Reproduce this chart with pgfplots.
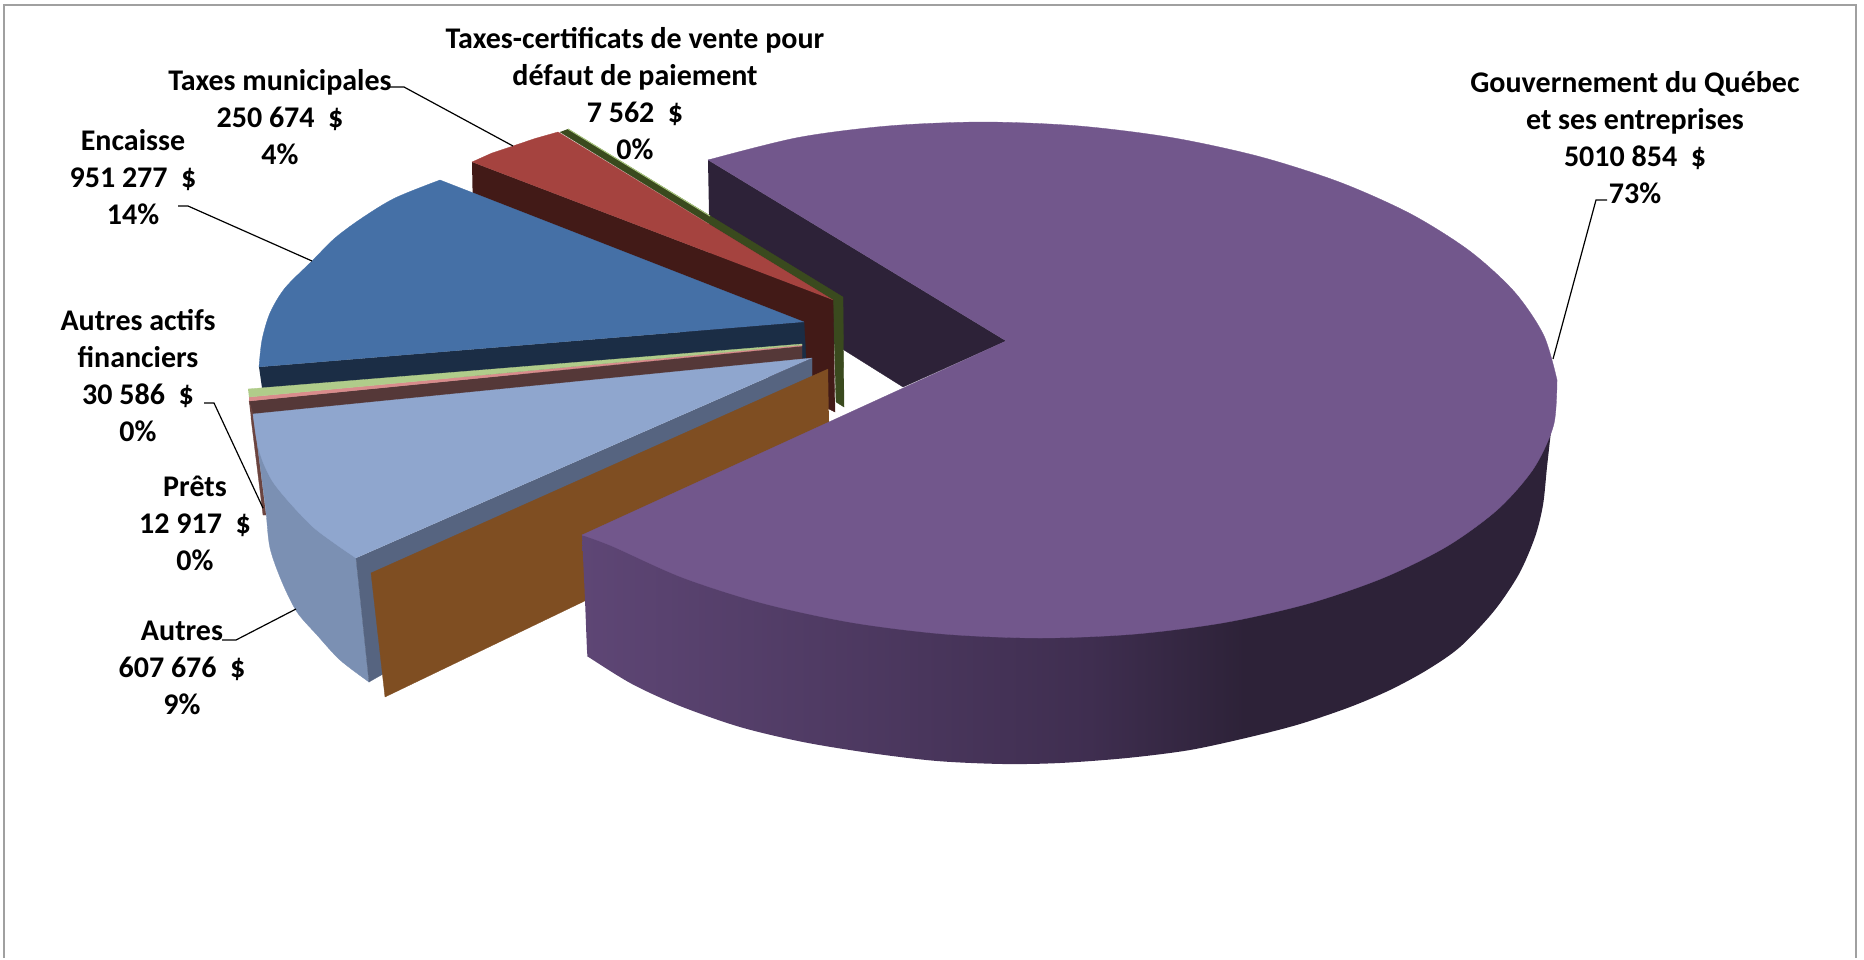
\documentclass[border=0pt]{standalone}
\usepackage{fontspec}
\setmainfont{Carlito}
\usepackage{pgfplots}
\pgfplotsset{compat=1.18}
\definecolor{purpleTop}{HTML}{72578C}
\definecolor{purpleDark}{HTML}{2D2238}
\definecolor{purpleLeft}{HTML}{5E4675}
\definecolor{purpleMid}{HTML}{3F2E50}
\definecolor{oliveDark}{HTML}{3A4A1E}
\definecolor{oliveLight}{HTML}{A8C57E}
\definecolor{redTop}{HTML}{A5433F}
\definecolor{redDark}{HTML}{421A17}
\definecolor{blueTop}{HTML}{4570A6}
\definecolor{blueDark}{HTML}{1B2D45}
\definecolor{stripGreen}{HTML}{B0CC8A}
\definecolor{stripPink}{HTML}{D98C8C}
\definecolor{stripBrown}{HTML}{553838}
\definecolor{sliver}{HTML}{6B4440}
\definecolor{paleTop}{HTML}{8FA6CE}
\definecolor{paleSide}{HTML}{7B90B3}
\definecolor{paleCut}{HTML}{566480}
\definecolor{brownFace}{HTML}{7F4E22}
\definecolor{frameGray}{HTML}{A0A0A0}
\pgfdeclarehorizontalshading{purpleside}{100bp}{color(0bp)=(purpleLeft); color(25bp)=(purpleLeft); color(51bp)=(purpleMid); color(59bp)=(purpleDark); color(100bp)=(purpleDark)}
\pgfplotsset{
  poly/.style={fill=#1,draw=#1,line width=0.3pt,mark=none,forget plot},
  curved/.style={fill=#1,draw=#1,line width=0.3pt,mark=none,forget plot,smooth},
  leader/.style={draw=black,line width=1.2pt,mark=none,forget plot}
}
\tikzset{lab/.style={align=center,anchor=center,inner sep=0pt,font=\fontsize{30}{37}\selectfont\bfseries}}
\begin{document}
\begin{tikzpicture}
\begin{axis}[
  width=1864pt,height=959pt,scale only axis,
  xmin=0,xmax=1864,ymin=0,ymax=959,y dir=reverse,
  hide axis,clip=false]
% page extent
\addplot[draw=none,mark=none,forget plot] coordinates {(0,0)(1864,959)};
% frame
\addplot[draw=frameGray,line width=1.3pt,mark=none,forget plot] coordinates {(4,958)(4,5)(1856,5)(1856,958)};
% purple inner face
\addplot[poly=purpleDark] coordinates {(708,160)(1006,341)(903,387)(710,266)};
% olive slice
\addplot[poly=oliveDark] coordinates {(568,129)(843,297)(844,407)(836,402)(833,300)(560,132)};
\addplot[draw=oliveLight,line width=1pt,mark=none,forget plot] coordinates {(568,129)(710,216)};
% red slice
\addplot[poly=redDark] coordinates {(472,162)(833,300)(835,412)(829,409)(810,400)(473,215)};
\addplot[poly=redTop] coordinates {(472,162)(492,153)(513,146)(535,138.5)(558,132)(833,300)};
% blue slice
\addplot[poly=blueDark] coordinates {(259,367)(804,322)(806,358)(262,388)};
\addplot[poly=blueTop] coordinates {(259,367)(285,300)(440,180)(804,322)};
\addplot[curved=blueTop] coordinates {(259,367)(262,340)(270,313)(285,288)(312,261)(335,238)(362,218)(395,198)(440,180)};
% thin slices
\addplot[poly=stripBrown] coordinates {(249,401)(802,346)(802,360)(253,416)};
\addplot[poly=stripPink] coordinates {(249,397)(802,345)(802,346)(249,401)};
\addplot[poly=stripGreen] coordinates {(248,389)(802,344)(802,345)(249,397)};
\addplot[poly=sliver] coordinates {(249,401)(253,414)(257,442)(266,515)(263,515)(251,418)};
% pale blue slice
\addplot[poly=paleSide] coordinates {(257,442)(285,560)(369,682)(356,558)};
\addplot[curved=paleSide] coordinates {(257,442)(262,480)(266,512)(270,548)(282,582)(297,612)(317,635)(340,660)(369,682)};
\addplot[poly=paleCut] coordinates {(812,358)(812,430)(369,682)(356,558)};
\addplot[poly=paleTop] coordinates {(812,358)(253,414)(285,470)(356,558)};
\addplot[curved=paleTop] coordinates {(253,414)(257,442)(263,462)(273,482)(290,503)(313,527)(337,545)(356,558)};
% brown face
\addplot[poly=brownFace] coordinates {(828,369)(371,573)(385,697)(830,483)};
% purple side
\addplot[shading=purpleside,draw=none,mark=none,forget plot,smooth] coordinates {
 (582,535)(585,600)(587,650)(588,656)(590,658)(632,684)(680,706)(740,727)(803,742)(870,753)(937,761)(1003,764)(1060,763)
 (1127,758)(1190,750)(1250,737)(1300,724)(1350,707)(1390,690)(1427,670)(1460,647)(1494,611)(1519,574)
 (1535,537)(1543,505)(1547,467)(1552,423)(1557,385)};
% purple top
\addplot[poly=purpleTop] coordinates {(708,160)(983,140)(1400,230)(1557,380)(1300,590)(1000,620)(582,535)(1006,341)};
\addplot[curved=purpleTop] coordinates {
 (708,160)(798.1,137.5)(888.7,125.9)(983,122)(1078.1,125.9)(1171.3,137.5)(1259.6,156.6)(1340.3,182.4)
 (1411.1,214.1)(1469.7,251)(1514.4,291.8)(1543.7,335.2)(1557,380)};
\addplot[curved=purpleTop] coordinates {
 (1557,380)(1553.7,424.8)(1533.8,468.2)(1498.2,509)(1447.7,545.9)(1383.9,577.6)(1309,603.4)(1224.9,622.5)
 (1134.3,634.1)(1040,638)(944.9,634.1)(851.7,622.5)(763.5,603.4)(682.7,577.6)(611.9,546)(582,535)};
% leaders
\addplot[leader] coordinates {(1607,200)(1596,200)(1553,359)};
\addplot[leader] coordinates {(390,87)(404,87)(513,146)};
\addplot[leader] coordinates {(178,206)(188,206)(312,261)};
\addplot[leader] coordinates {(204,403)(214,403)(263,508)};
\addplot[leader] coordinates {(222,640)(236,640)(296,609)};
% labels
\node[lab] at (axis cs:1635,137.5) {Gouvernement du Québec\\et ses entreprises\\5010 854\ \ \$\\73\%};
\node[lab] at (axis cs:635,94) {Taxes-certificats de vente pour\\défaut de paiement\\7 562\ \ \$\\0\%};
\node[lab] at (axis cs:280,117) {Taxes municipales\\250 674\ \ \$\\4\%};
\node[lab] at (axis cs:133,177) {Encaisse\\951 277\ \ \$\\14\%};
\node[lab] at (axis cs:138,376) {Autres actifs\\financiers\\30 586\ \ \$\\0\%};
\node[lab] at (axis cs:195,523) {Prêts\\12 917\ \ \$\\0\%};
\node[lab] at (axis cs:182,667.5) {Autres\\607 676\ \ \$\\9\%};
\end{axis}
\end{tikzpicture}
\end{document}
